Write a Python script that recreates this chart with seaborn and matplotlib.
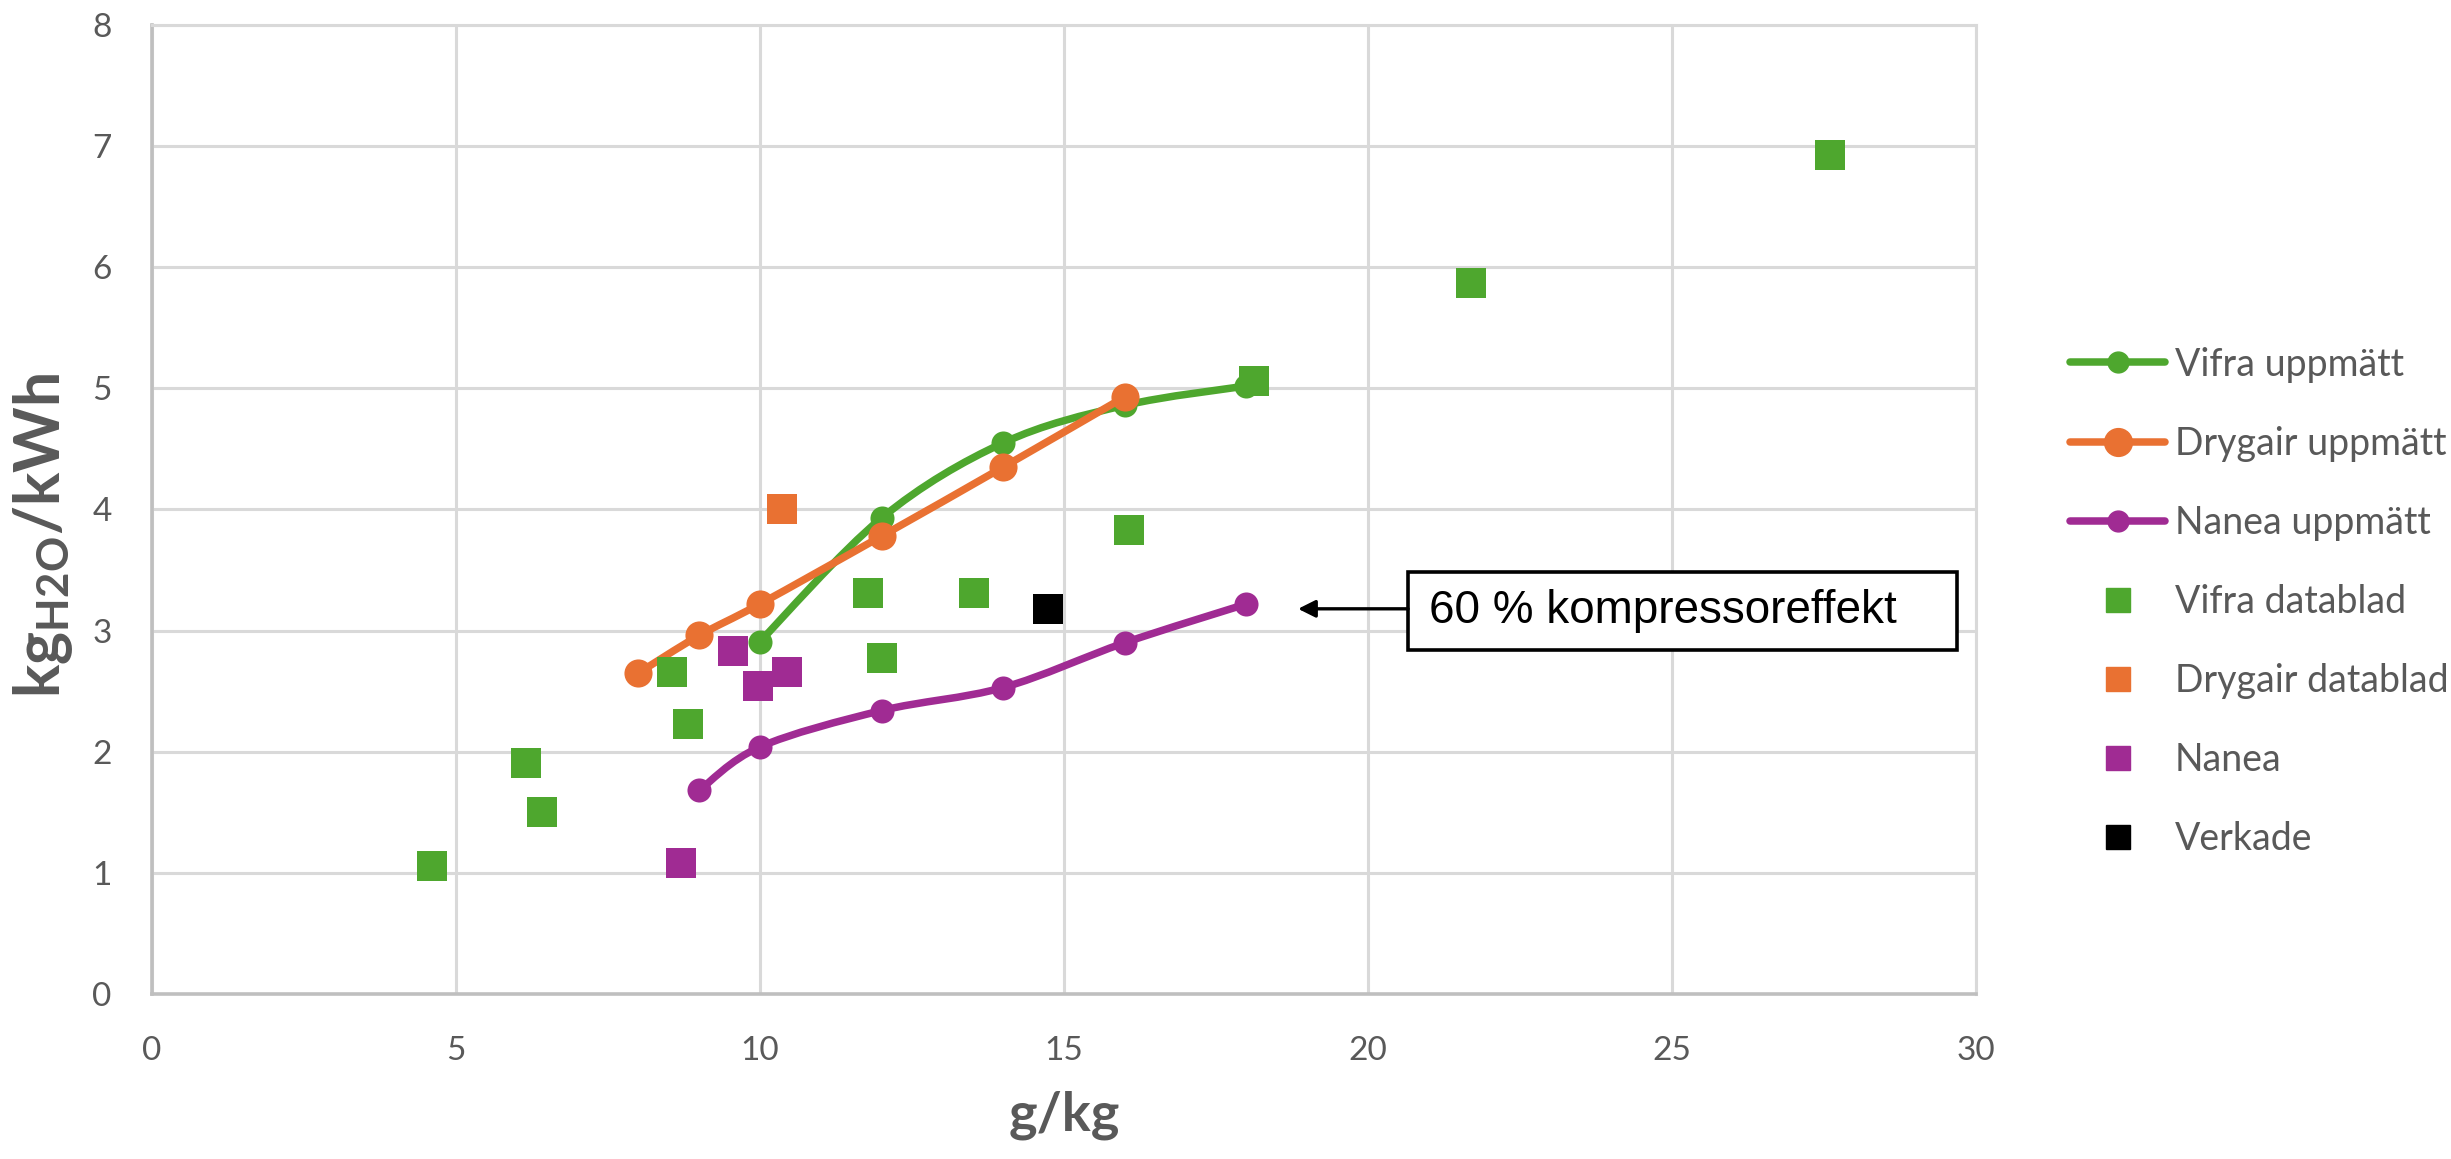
import matplotlib
matplotlib.use("Agg")
import matplotlib.pyplot as plt
import seaborn as sns
import numpy as np
from matplotlib.path import Path
from matplotlib.patches import PathPatch, Rectangle
from matplotlib.lines import Line2D

# measured series (smoothed lines with circle markers)
vifra_x = [10, 12, 14, 16, 18]
vifra_y = [2.91, 3.93, 4.55, 4.86, 5.02]
drygair_x = [8, 9, 10, 12, 14, 16]
drygair_y = [2.65, 2.96, 3.22, 3.78, 4.35, 4.93]
nanea_x = [9, 10, 12, 14, 16, 18]
nanea_y = [1.68, 2.04, 2.34, 2.53, 2.90, 3.22]

# datasheet points (squares)
vifra_db_x = [4.60, 6.15, 6.41, 8.55, 8.81, 11.78, 12.0, 13.52, 16.07, 18.13, 21.7, 27.6]
vifra_db_y = [1.06, 1.91, 1.50, 2.66, 2.23, 3.31, 2.77, 3.31, 3.83, 5.06, 5.87, 6.93]
drygair_db_x = [10.37]
drygair_db_y = [4.00]
nanea_db_x = [8.70, 9.56, 9.97, 10.44]
nanea_db_y = [1.08, 2.83, 2.54, 2.66]
verkade_x = [14.74]
verkade_y = [3.18]

x_ticks = [0, 5, 10, 15, 20, 25, 30]
y_ticks = [0, 1, 2, 3, 4, 5, 6, 7, 8]

GREEN = "#4EA72E"
ORANGE = "#E97132"
PURPLE = "#A02B93"
BLACK = "#000000"
GREY = "#595959"

sns.set_style("white")
plt.rcParams["font.family"] = ["Lato", "DejaVu Sans"]
plt.rcParams["mathtext.default"] = "regular"


def smooth_path(xs, ys):
    # Excel-style smoothed line: cubic Bezier segments through the points
    pts = np.column_stack([xs, ys]).astype(float)
    n = len(pts)
    verts = [pts[0]]
    codes = [Path.MOVETO]
    for i in range(n - 1):
        p0 = pts[max(i - 1, 0)]
        p1 = pts[i]
        p2 = pts[i + 1]
        p3 = pts[min(i + 2, n - 1)]
        verts += [p1 + (p2 - p0) / 6, p2 - (p3 - p1) / 6, p2]
        codes += [Path.CURVE4] * 3
    return Path(verts, codes)


fig = plt.figure(figsize=(24.51, 11.59), dpi=100)
ax = fig.add_axes([0.0620, 0.1424, 0.7442, 0.8360])

z = 3
for xs, ys, color, size in [(vifra_x, vifra_y, GREEN, 300),
                            (drygair_x, drygair_y, ORANGE, 410),
                            (nanea_x, nanea_y, PURPLE, 300)]:
    ax.add_patch(PathPatch(smooth_path(xs, ys), fill=False, edgecolor=color, lw=5.4,
                           capstyle="round", joinstyle="round", zorder=z))
    sns.scatterplot(x=xs, y=ys, ax=ax, color=color, s=size, marker="o",
                    linewidth=0, zorder=z + 0.5)
    z += 1

for xs, ys, color in [(vifra_db_x, vifra_db_y, GREEN),
                      (drygair_db_x, drygair_db_y, ORANGE),
                      (nanea_db_x, nanea_db_y, PURPLE),
                      (verkade_x, verkade_y, BLACK)]:
    sns.scatterplot(x=xs, y=ys, ax=ax, color=color, s=440, marker="s",
                    linewidth=0, zorder=z)
    z += 1

ax.set_xlim(0, 30)
ax.set_ylim(0, 8)
ax.set_xticks(x_ticks)
ax.set_yticks(y_ticks)
ax.grid(True, color="#D9D9D9", lw=2.2)
ax.set_axisbelow(True)
for side in ["top", "right"]:
    ax.spines[side].set_color("#D9D9D9")
    ax.spines[side].set_linewidth(2.2)
for side in ["left", "bottom"]:
    ax.spines[side].set_color("#BFBFBF")
    ax.spines[side].set_linewidth(2.6)
ax.tick_params(length=0, labelsize=24, labelcolor=GREY)
ax.tick_params(axis="y", pad=29)
ax.tick_params(axis="x", pad=30)

ax.set_xlabel("g/kg", fontsize=39, fontweight="bold", color=GREY)
ax.xaxis.set_label_coords(0.5, -0.1)
ax.set_ylabel("kg$_{H2O}$/kWh", fontsize=45, fontweight="bold", color=GREY)
ax.yaxis.set_label_coords(-0.042, 0.473)

# text box with arrow pointing at the last Nanea point
ax.add_patch(Rectangle((20.66, 2.84), 9.03, 0.645, fc="white", ec="black",
                       lw=2.6, zorder=20))
ax.text(21.0, 3.16, "60 % kompressoreffekt", ha="left", va="center", fontsize=33,
        color="black", family=["Liberation Sans", "DejaVu Sans"], zorder=21)
ax.annotate("", xy=(18.85, 3.18), xytext=(20.66, 3.18),
            arrowprops=dict(arrowstyle="-|>", color="black", lw=2.4,
                            mutation_scale=26, shrinkA=0, shrinkB=0),
            zorder=20)

handles = [
    Line2D([], [], color=GREEN, lw=5.4, marker="o", ms=15, label="Vifra uppmätt"),
    Line2D([], [], color=ORANGE, lw=5.4, marker="o", ms=20, label="Drygair uppmätt"),
    Line2D([], [], color=PURPLE, lw=5.4, marker="o", ms=15, label="Nanea uppmätt"),
    Line2D([], [], ls="none", marker="s", ms=17, color=GREEN, label="Vifra datablad"),
    Line2D([], [], ls="none", marker="s", ms=17, color=ORANGE, label="Drygair datablad"),
    Line2D([], [], ls="none", marker="s", ms=17, color=PURPLE, label="Nanea"),
    Line2D([], [], ls="none", marker="s", ms=17, color=BLACK, label="Verkade"),
]
fig.legend(handles=handles, loc="upper left", bbox_to_anchor=(0.8445, 0.701),
           frameon=False, fontsize=27, handlelength=2.55, handletextpad=0.25,
           labelspacing=1.15, borderpad=0, borderaxespad=0, labelcolor=GREY)

fig.savefig("out.png", dpi=100)
plt.close(fig)
